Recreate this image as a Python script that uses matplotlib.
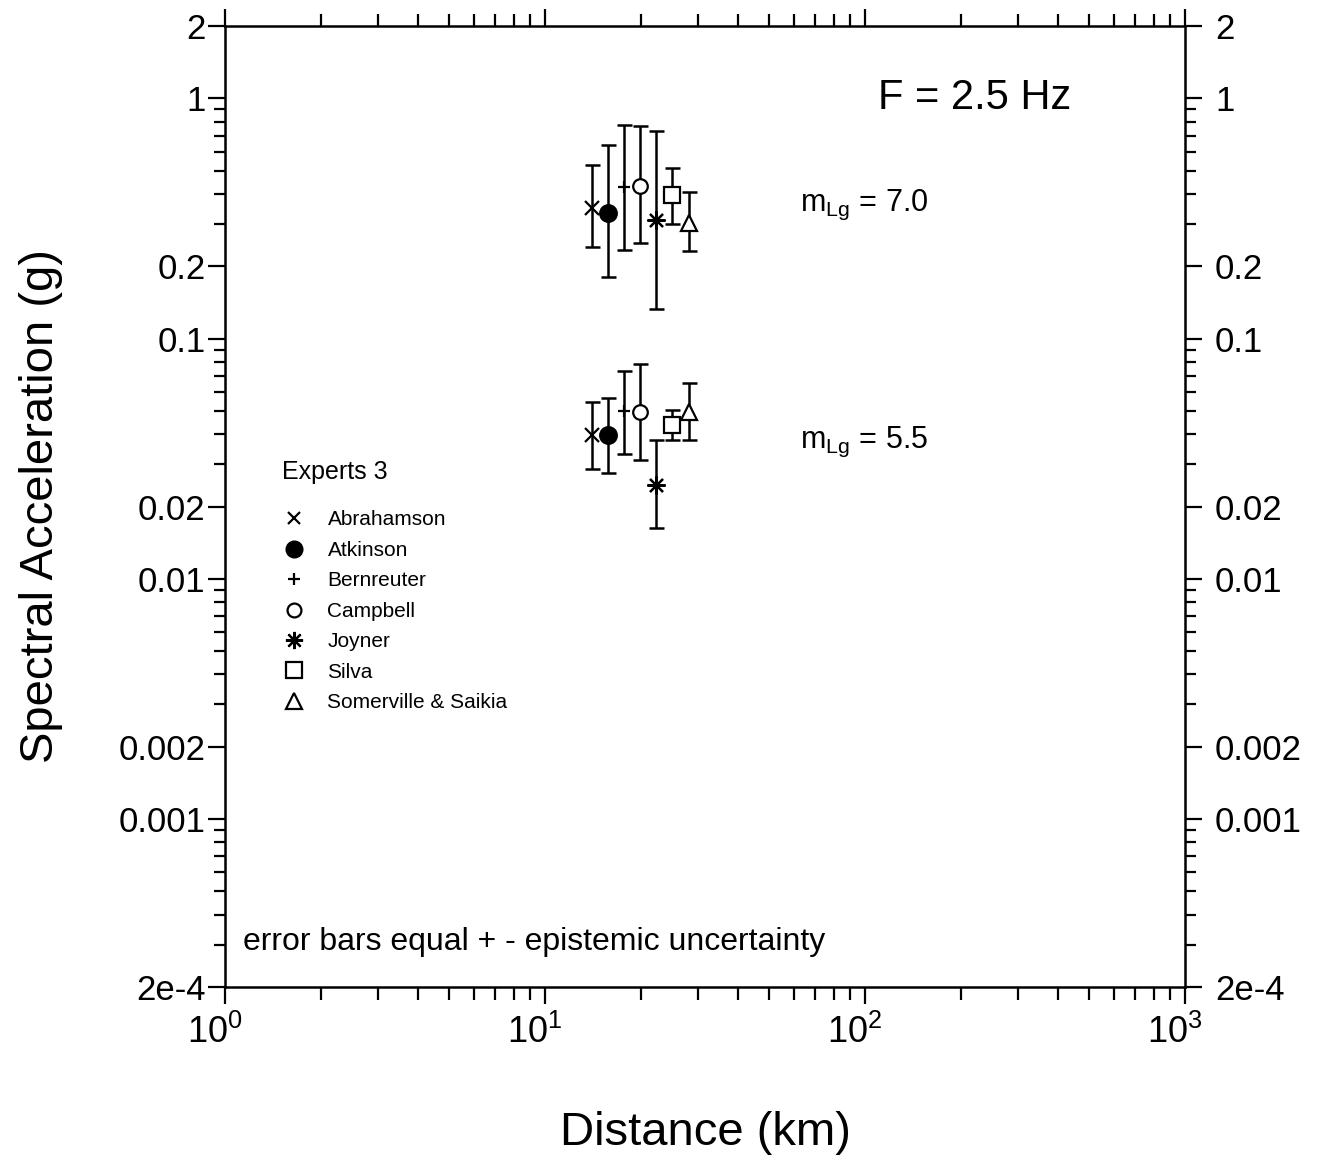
import numpy as np
import matplotlib
matplotlib.use('Agg')
import matplotlib.pyplot as plt
import matplotlib.transforms as mtransforms
from matplotlib.lines import Line2D
from matplotlib.ticker import FixedLocator, FixedFormatter, NullFormatter

plt.rcParams['font.family'] = ['Liberation Sans', 'DejaVu Sans']
plt.rcParams['mathtext.fontset'] = 'custom'
plt.rcParams['mathtext.rm'] = 'Liberation Sans'
plt.rcParams['mathtext.it'] = 'Liberation Sans:italic'

# experts and their marker styles
experts = ['Abrahamson', 'Atkinson', 'Bernreuter', 'Campbell', 'Joyner', 'Silva', 'Somerville & Saikia']
markers = ['x', 'o', '+', 'o', (8, 2, 0), 's', '^']
faces = ['none', 'black', 'none', 'white', 'none', 'white', 'white']
msizes = [9.5, 12, 9, 10.5, 13, 11.5, 12]

# distance (km) for each expert (slightly offset so bars don't overlap)
dist = [14.0, 15.7, 17.6, 19.8, 22.2, 24.9, 28.2]

# mLg = 7.0 : median, lower, upper spectral acceleration (g)
sa70 = [0.351, 0.334, 0.426, 0.431, 0.313, 0.395, 0.303]
lo70 = [0.241, 0.181, 0.233, 0.249, 0.133, 0.301, 0.231]
hi70 = [0.527, 0.638, 0.774, 0.766, 0.733, 0.515, 0.408]

# mLg = 5.5
sa55 = [0.0395, 0.0395, 0.0498, 0.0494, 0.0245, 0.0435, 0.0494]
lo55 = [0.0287, 0.0275, 0.0330, 0.0313, 0.0163, 0.0377, 0.0377]
hi55 = [0.0544, 0.0567, 0.0733, 0.0781, 0.0377, 0.0506, 0.0655]

ytick_vals = [2e-4, 0.001, 0.002, 0.01, 0.02, 0.1, 0.2, 1, 2]
ytick_labels = ['2e-4', '0.001', '0.002', '0.01', '0.02', '0.1', '0.2', '1', '2']
xtick_vals = [1, 10, 100, 1000]
xtick_labels = ['10$^0$', '10$^1$', '10$^2$', '10$^3$']

fig = plt.figure(figsize=(13.24, 11.59), dpi=100)
ax = fig.add_axes([225/1324, 1-987/1159, 960/1324, 961/1159])
ax.set_xscale('log')
ax.set_yscale('log')

for sa, lo, hi in [(sa70, lo70, hi70), (sa55, lo55, hi55)]:
    for i in range(len(experts)):
        err = [[sa[i]-lo[i]], [hi[i]-sa[i]]]
        ax.errorbar([dist[i]], [sa[i]], yerr=err, fmt='none', ecolor='black',
                    elinewidth=1.8, capsize=5.4, capthick=1.8, zorder=2)
        ax.plot([dist[i]], [sa[i]], linestyle='none', marker=markers[i], ms=msizes[i],
                mfc=faces[i], mec='black', mew=1.6, color='black', zorder=3)

ax.set_xlim(1, 1000)
ax.set_ylim(2e-4, 2)

# ticks
ax.xaxis.set_major_locator(FixedLocator(xtick_vals))
ax.xaxis.set_major_formatter(FixedFormatter(xtick_labels))
xminor = [m*10**d for d in range(0, 3) for m in range(2, 10)]
ax.xaxis.set_minor_locator(FixedLocator(xminor))
ax.xaxis.set_minor_formatter(NullFormatter())

yminor = [m*10.0**d for d in range(-4, 1) for m in range(2, 10)]
yminor = [v for v in yminor if 2e-4 <= v <= 2 and not any(abs(v-t)/t < 1e-6 for t in ytick_vals)]
ax.yaxis.set_major_locator(FixedLocator(ytick_vals))
ax.yaxis.set_major_formatter(FixedFormatter(ytick_labels))
ax.yaxis.set_minor_locator(FixedLocator(yminor))
ax.yaxis.set_minor_formatter(NullFormatter())

ax.tick_params(which='both', direction='out', top=True, right=True, width=1.6, colors='black')
ax.tick_params(axis='y', which='major', length=12, labelsize=25, pad=2, labelright=True)
ax.tick_params(axis='y', which='minor', length=8)
ax.tick_params(axis='x', which='major', length=12, labelsize=26, pad=8)
ax.tick_params(axis='x', which='minor', length=9)
for s in ax.spines.values():
    s.set_linewidth(1.8)
# push right labels a bit further out
for t in ax.yaxis.get_major_ticks():
    t.label2.set_x(1.011)
# decade labels sit a little left of their ticks
shift = mtransforms.ScaledTranslation(-10/100, 0, fig.dpi_scale_trans)
for lab in ax.get_xticklabels():
    lab.set_transform(lab.get_transform() + shift)

ax.set_xlabel('Distance (km)', fontsize=34, labelpad=43)
ax.set_ylabel('Spectral Acceleration (g)', fontsize=34, labelpad=40)

ax.text(0.68, 0.925, 'F = 2.5 Hz', transform=ax.transAxes, fontsize=30, va='center')
ax.text(0.599, 0.8137, 'm$_{\\rm Lg}$ = 7.0', transform=ax.transAxes, fontsize=22, va='center')
ax.text(0.599, 0.567, 'm$_{\\rm Lg}$ = 5.5', transform=ax.transAxes, fontsize=22, va='center')
ax.text(0.019, 0.0468, 'error bars equal + - epistemic uncertainty', transform=ax.transAxes,
        fontsize=23, va='center')

handles = [Line2D([], [], linestyle='none', marker=markers[i], ms=msizes[i]*0.95,
                  mfc=faces[i], mec='black', mew=1.6, color='black') for i in range(len(experts))]
leg = ax.legend(handles, experts, loc='upper left', bbox_to_anchor=(0.059, 0.5483),
                frameon=False, fontsize=15, title='Experts 3', title_fontsize=18,
                alignment='left', borderpad=0, borderaxespad=0, handlelength=1.2,
                handletextpad=1.0, labelspacing=0.55)
leg._legend_box.sep = 19

fig.savefig('out.png', dpi=100)
